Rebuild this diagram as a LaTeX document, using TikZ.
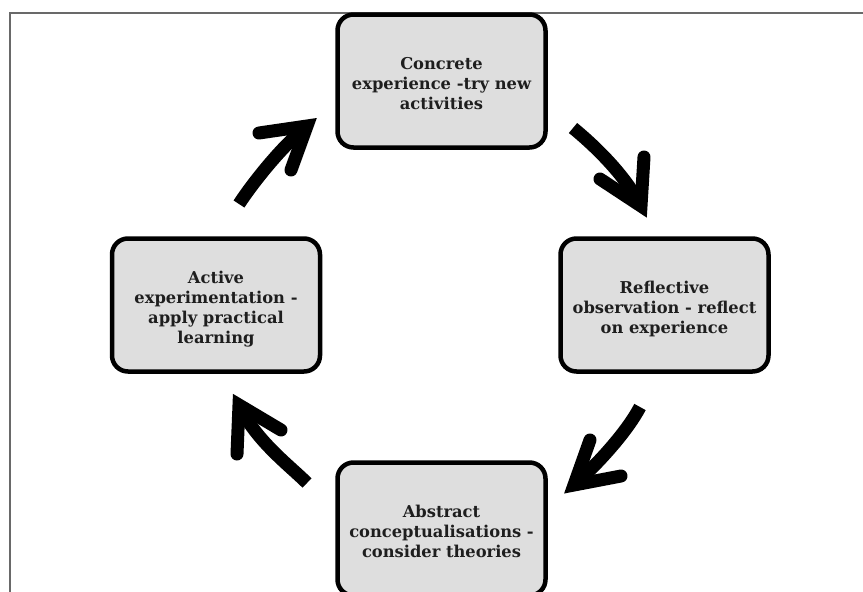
\documentclass[tikz,border=0pt]{standalone}
\usepackage{fontspec}
\setmainfont{DejaVu Serif}
\definecolor{stagefill}{RGB}{222,222,222}
\definecolor{framegray}{RGB}{105,105,105}
\definecolor{inkdark}{RGB}{30,30,30}
% stage caption, set a little below the box centre
\newcommand{\stagetext}[1]{\raisebox{-4pt}[\height][\depth]{%
  \begin{tabular}{@{}c@{}}#1\end{tabular}}}
\begin{document}
\begin{tikzpicture}[x=1pt,y=-1pt,
  stage/.style={draw=black, line width=4.5pt, fill=stagefill,
    rounded corners=16pt, minimum width=208pt, minimum height=133pt,
    inner sep=0pt, align=center, text=inkdark,
    font=\fontsize{16.3}{20}\selectfont\bfseries},
  shaft/.style={line width=13pt, line cap=butt},
  barb/.style={line width=13pt, line cap=round, line join=miter}]
\useasboundingbox (0,0) rectangle (863,592);
\begin{scope}
\clip (0,0) rectangle (863,592);
% outer frame (only its left and top sides fall on the page)
\draw[framegray, line width=2.5pt] (10,610) -- (10,13) -- (880,13);

% the four stages of the cycle
\node[stage] (conc) at (441.5,81)  {\stagetext{Concrete\\experience -try new\\activities}};
\node[stage] (refl) at (664.5,305) {\stagetext{Reflective\\observation - reflect\\on experience}};
\node[stage] (abst) at (441.5,529) {\stagetext{Abstract\\conceptualisations -\\consider theories}};
\node[stage] (actv) at (216,305)   {\stagetext{Active\\experimentation -\\apply practical\\learning}};

% arrow ends: shaft start, head vertex and the two barb ends
\coordinate (s1) at (239,204); \coordinate (t1) at (307,126);
\coordinate (p1) at (259,133); \coordinate (q1) at (291,170);
\coordinate (s2) at (573,128); \coordinate (t2) at (641,206);
\coordinate (p2) at (644,157); \coordinate (q2) at (600,179);
\coordinate (s3) at (640,407); \coordinate (t3) at (574,485);
\coordinate (p3) at (590,440); \coordinate (q3) at (621,476);
\coordinate (s4) at (307,483); \coordinate (t4) at (239,405);
\coordinate (p4) at (237,454); \coordinate (q4) at (281,430);

% active -> concrete
\draw[shaft] (s1) .. controls (252,184) and (281,147) .. (t1);
\draw[barb] (p1) -- (t1) -- (q1);
% concrete -> reflective
\draw[shaft] (s2) .. controls (595,146) and (625,175) .. (t2);
\draw[barb] (p2) -- (t2) -- (q2);
% reflective -> abstract
\draw[shaft] (s3) .. controls (628,430) and (600,462) .. (t3);
\draw[barb] (p3) -- (t3) -- (q3);
% abstract -> active
\draw[shaft] (s4) .. controls (290,466) and (255,440) .. (t4);
\draw[barb] (p4) -- (t4) -- (q4);
\end{scope}
\end{tikzpicture}
\end{document}
